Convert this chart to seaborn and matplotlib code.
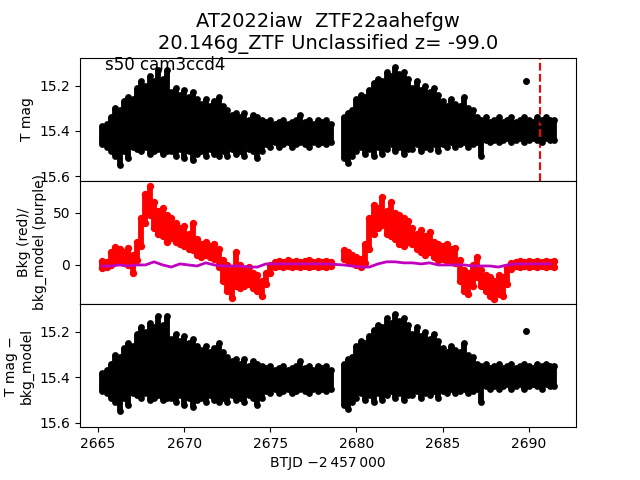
import numpy as np
import pandas as pd
import seaborn as sns
import matplotlib
matplotlib.use("Agg")
import matplotlib.pyplot as plt

# time grid of the two TESS orbits (0.25 d bins)
t_orbit1 = np.arange(2665.25, 2678.51, 0.25)
t_orbit2 = np.arange(2679.25, 2691.51, 0.25)

# T mag band per bin: bright edge / faint edge
mag_top1 = [15.38, 15.37, 15.34, 15.30, 15.31, 15.27, 15.25, 15.26,
            15.21, 15.18, 15.20, 15.16, 15.18, 15.13, 15.17, 15.13,
            15.23, 15.21, 15.24, 15.22, 15.25, 15.23,
            15.26, 15.28, 15.26, 15.29, 15.27, 15.25, 15.29,
            15.31, 15.33, 15.32, 15.34, 15.32, 15.35, 15.33, 15.34, 15.35,
            15.36, 15.35, 15.37, 15.36, 15.35, 15.37, 15.36, 15.35,
            15.33, 15.36, 15.35, 15.37, 15.35, 15.36, 15.35, 15.37]
mag_bot1 = [15.46, 15.47, 15.49, 15.51, 15.55, 15.49, 15.52, 15.47,
            15.48, 15.49, 15.47, 15.50, 15.49, 15.48, 15.50, 15.49,
            15.49, 15.51, 15.48, 15.52, 15.49, 15.53,
            15.50, 15.49, 15.51, 15.48, 15.50, 15.51, 15.49,
            15.51, 15.48, 15.50, 15.49, 15.51, 15.48, 15.49, 15.52, 15.49,
            15.46, 15.47, 15.45, 15.47, 15.46, 15.45, 15.47, 15.46,
            15.45, 15.46, 15.47, 15.45, 15.46, 15.45, 15.46, 15.45]
mag_top2 = [15.34, 15.32, 15.31, 15.26, 15.24, 15.25, 15.22,
            15.19, 15.17, 15.18, 15.14, 15.16, 15.12, 15.15, 15.14, 15.17,
            15.21, 15.18, 15.22, 15.20, 15.23, 15.21, 15.24,
            15.27, 15.29, 15.26, 15.28, 15.29, 15.25, 15.30, 15.31,
            15.34, 15.35, 15.34, 15.36, 15.35, 15.34, 15.36, 15.35, 15.34,
            15.36, 15.35, 15.34, 15.35, 15.36, 15.34, 15.35, 15.34, 15.35, 15.35]
mag_bot2 = [15.52, 15.54, 15.51, 15.49, 15.47, 15.50, 15.48,
            15.51, 15.47, 15.50, 15.48, 15.46, 15.49, 15.47, 15.50, 15.48,
            15.48, 15.46, 15.49, 15.47, 15.48, 15.46, 15.49,
            15.46, 15.47, 15.45, 15.47, 15.46, 15.45, 15.47, 15.46,
            15.45, 15.51, 15.44, 15.45, 15.44, 15.45, 15.44, 15.43, 15.45,
            15.44, 15.43, 15.45, 15.44, 15.43, 15.44, 15.45, 15.43, 15.44, 15.44]

# lone bright point
t_outlier = [2689.87]
mag_outlier_top = [15.18]
mag_outlier_bottom = [15.195]

# background (red): upper / lower edge per bin
bkg_hi1 = [4, 3, 12, 17, 15, 12, 16, 10, 22, 45, 68, 76, 60, 52, 55, 48, 45, 40,
           35, 37, 30, 40, 25, 20, 22, 18, 20, 15, 5, 0, -5, 12, 0, -5, -2, -8,
           -10, -15, -8, 0, 3, 4, 3, 5, 3, 4, 3, 4, 5, 3, 4, 3, 4, 3]
bkg_lo1 = [-3, -2, 0, 3, 4, 2, 0, -8, 5, 18, 40, 48, 35, 30, 28, 22, 26, 22,
           20, 18, 15, 14, 10, 8, 10, 8, 6, -2, -15, -25, -32, -20, -22, -20, -18, -22,
           -25, -30, -18, -8, -2, -1, -2, -1, -2, -1, -2, -1, -2, -1, -2, -1, -2, -1]
bkg_hi2 = [14, 12, 10, 8, 6, 20, 45, 58, 55, 65, 52, 60, 50, 48, 45, 42, 35, 30,
           34, 28, 32, 22, 20, 18, 20, 15, 16, 5, -5, -8, 0, 8, -5, -10, -12, -15,
           -10, -12, -3, 2, 3, 4, 3, 4, 3, 4, 3, 4, 3, 4]
bkg_lo2 = [6, 4, 2, 0, -2, 2, 15, 30, 35, 38, 30, 28, 25, 20, 18, 22, 20, 15,
           12, 10, 12, 8, 5, 6, 4, 5, 2, -15, -25, -28, -20, -12, -20, -25, -30, -33,
           -28, -30, -18, -4, -1, -2, -1, -2, -1, -2, -1, -2, -1, -2]

# background model (purple), every second bin
model1 = [-1, -1, 0, -1, 0, 0, 3, 0, -2, 1, 0, -1, 2, 0, -1, -1, -1, -2, -2,
          1, 1, 1, 1, 1, 1, 1, 1]
model2 = [0, -1, -2, -2, 1, 3, 3, 2, 2, 1, 2, 0, 0, 0, 0, -1, -1, -1, -2,
          0, 1, 1, 1, 1, 1]

t_event = 2690.68

t_all = np.concatenate([t_orbit1, t_orbit2])
lc = pd.DataFrame({
    "t": t_all,
    "top": mag_top1 + mag_top2,
    "bot": mag_bot1 + mag_bot2,
    "bkg_hi": bkg_hi1 + bkg_hi2,
    "bkg_lo": bkg_lo1 + bkg_lo2,
})
model = pd.DataFrame({
    "t": np.concatenate([t_orbit1[::2], t_orbit2[::2]]),
    "bkg_model": model1 + model2,
})


def draw_band(ax, df, lo_col, hi_col, color, lw, size):
    ax.vlines(df["t"], df[lo_col], df[hi_col], colors=color, lw=lw, zorder=2)
    for col in (lo_col, hi_col):
        sns.scatterplot(data=df, x="t", y=col, ax=ax, color=color, s=size,
                        linewidth=0, zorder=3, legend=False)


fig, axes = plt.subplots(3, 1, sharex=True, figsize=(6.4, 4.8), dpi=100)
fig.subplots_adjust(hspace=0)

# top: T mag
ax = axes[0]
draw_band(ax, lc, "top", "bot", "black", 4.2, 24)
ax.plot(t_outlier, mag_outlier_top, "o", color="black", ms=4)
ax.axvline(t_event, color="red", ls="--", lw=1.5)
ax.set_ylim(15.62, 15.077)
ax.set_yticks([15.2, 15.4, 15.6])
ax.set_ylabel("T mag")
ax.set_title("AT2022iaw  ZTF22aahefgw\n20.146g_ZTF Unclassified z= -99.0",
             fontsize=14)
ax.text(0.05, 0.9, "s50 cam3ccd4", transform=ax.transAxes, fontsize=12)

# middle: background
ax = axes[1]
draw_band(ax, lc, "bkg_lo", "bkg_hi", "red", 4.2, 28)
sns.lineplot(data=model, x="t", y="bkg_model", ax=ax, color="m", lw=2,
             sort=False, estimator=None, zorder=4)
ax.set_ylim(-37.5, 80.8)
ax.set_yticks([0, 50])
ax.set_ylabel("Bkg (red)/\nbkg_model (purple)")

# bottom: corrected mag
ax = axes[2]
draw_band(ax, lc, "top", "bot", "black", 4.2, 24)
ax.plot(t_outlier, mag_outlier_bottom, "o", color="black", ms=4)
ax.set_ylim(15.62, 15.077)
ax.set_yticks([15.2, 15.4, 15.6])
ax.set_ylabel("T mag \u2212\nbkg_model")

ax.set_xlim(2663.95, 2692.75)
ax.set_xticks([2665, 2670, 2675, 2680, 2685, 2690])
ax.set_xlabel("BTJD \u22122\u2009457\u2009000")

fig.savefig("out.png", dpi=100)
